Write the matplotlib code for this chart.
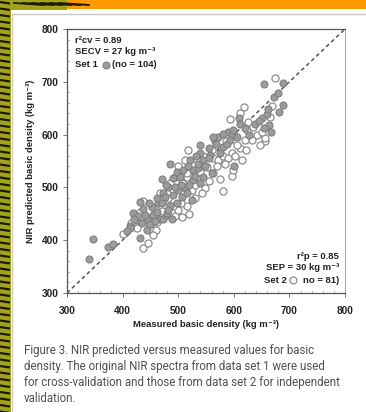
import matplotlib.pyplot as plt
import numpy as np

# Set 1 (cross-validation), filled grey circles
set1_measured = [339, 346, 374, 382, 414, 431, 413, 419, 425, 431, 437, 434, 443, 446,
                 455, 461, 464, 467, 473, 479, 488, 472, 482, 470, 485, 497, 479, 476,
                 491, 506, 524, 500, 512, 478, 491, 497, 485, 509, 527, 536, 521, 539,
                 545, 557, 560, 545, 527, 539, 556, 566, 581, 588, 600, 572, 590, 596,
                 581, 610, 611, 638, 650, 659, 662, 673, 680, 655, 688, 689, 682, 664,
                 667, 599, 563, 532, 517, 503, 462, 452, 440, 428, 420, 450, 458, 505,
                 515, 530, 548, 555, 575, 593, 605, 620, 628, 645, 655, 470, 494, 520,
                 540, 568, 482, 447, 408, 535]
set1_predicted = [365, 402, 388, 393, 427, 405, 424, 451, 438, 473, 460, 432, 419, 438,
                  447, 454, 470, 441, 440, 447, 441, 489, 501, 470, 464, 470, 451, 482,
                  486, 482, 476, 495, 498, 505, 517, 530, 544, 533, 533, 536, 552, 565,
                  552, 561, 527, 520, 514, 508, 555, 587, 577, 583, 540, 596, 605, 599,
                  602, 632, 620, 621, 631, 639, 648, 672, 678, 696, 698, 656, 643, 618,
                  605, 609, 596, 560, 540, 520, 480, 462, 447, 445, 440, 430, 436, 505,
                  490, 522, 540, 575, 565, 590, 595, 612, 600, 625, 612, 515, 500, 505,
                  580, 583, 458, 470, 418, 545]

# Set 2 (independent validation), open circles
set2_measured = [401, 437, 445, 449, 449, 436, 431, 416, 425, 458, 461, 479, 491, 506,
                 515, 506, 494, 500, 515, 482, 485, 515, 524, 533, 515, 512, 518, 551,
                 563, 572, 563, 581, 596, 599, 596, 611, 622, 614, 586, 656, 619, 593,
                 623, 626, 641, 656, 633, 665, 668, 674, 648, 549, 542, 530, 555, 570,
                 580, 540, 505, 520, 490, 470, 460, 455, 467, 500, 525, 560, 590, 605,
                 603, 620, 635, 650, 600, 545, 530, 495, 575, 585, 612]
set2_predicted = [412, 385, 394, 427, 419, 474, 454, 432, 424, 460, 435, 476, 495, 508,
                  520, 443, 445, 457, 464, 479, 508, 501, 495, 520, 527, 552, 571, 539,
                  555, 552, 527, 494, 521, 533, 565, 574, 571, 551, 587, 587, 652, 629,
                  609, 624, 600, 593, 590, 634, 654, 707, 580, 498, 490, 480, 512, 540,
                  560, 530, 470, 450, 465, 455, 420, 410, 490, 540, 545, 570, 555, 580,
                  560, 590, 615, 605, 600, 560, 505, 520, 515, 545, 640]

W, H = 366, 412
fig = plt.figure(figsize=(W / 100, H / 100), dpi=100)

# decorative page background (pixel coordinates)
bg = fig.add_axes([0, 0, 1, 1])
bg.set_xlim(0, W)
bg.set_ylim(H, 0)
bg.axis('off')
bg.add_patch(plt.Rectangle((0, 0), 11, H, color='#a3a21c', lw=0))
bg.add_patch(plt.Rectangle((0, 0), 67, 10, color='#a3a21c', lw=0))
bg.add_patch(plt.Rectangle((67, 0), W - 67, 9, color='#ff9a00', lw=0))
for yy in np.arange(2, H, 6.5):
    bg.plot([0, 10], [yy, yy + 1.5], color='#1a1a00', lw=1.6, solid_capstyle='butt')
for xx in np.arange(14, 67, 9):
    bg.plot([xx, xx + 30], [3, 5], color='#1a1a00', lw=1.3)
bg.add_patch(plt.Rectangle((12, 14), W, H, facecolor='white', edgecolor='#c8c8c8', lw=1))

fam = ['Liberation Sans', 'DejaVu Sans']

ax = fig.add_axes([67 / W, 1 - 293 / H, 278 / W, 264 / H])
ax.plot([300, 800], [300, 800], color='#555555', ls=(0, (2.5, 2)), lw=1.1, zorder=1)
ax.scatter(set2_measured, set2_predicted, s=26, facecolors='white', edgecolors='#8c8c8c',
           linewidths=0.9, zorder=2)
ax.scatter(set1_measured, set1_predicted, s=26, facecolors='#9c9c9c', edgecolors='#7a7a7a',
           linewidths=0.7, zorder=3)

ax.set_xlim(300, 800)
ax.set_ylim(300, 800)
ax.set_xticks(range(300, 801, 100))
ax.set_yticks(range(300, 801, 100))
ax.set_xticks(range(300, 801, 20), minor=True)
ax.set_yticks(range(300, 801, 20), minor=True)
ax.tick_params(which='major', direction='out', length=3, width=0.7, color='#777777',
               labelsize=7.3, pad=3)
ax.tick_params(axis='x', which='major', pad=6)
ax.tick_params(which='minor', direction='in', length=2, width=0.5, color='#aaaaaa')
for lab in ax.get_xticklabels() + ax.get_yticklabels():
    lab.set_fontweight('bold')
    lab.set_family(fam)
    lab.set_color('#222222')
for side in ['left', 'bottom', 'top']:
    ax.spines[side].set_color('#555555')
    ax.spines[side].set_linewidth(0.9)
ax.spines['right'].set_color('#aaaaaa')

lab_font = dict(family=fam, fontsize=6.8, fontweight='bold', color='#222222')
ax.set_xlabel('Measured basic density (kg m⁻³)', labelpad=3, **lab_font)
ax.set_ylabel('NIR predicted basic density (kg m⁻³)', labelpad=5, **lab_font)

txt = dict(family=fam, fontsize=6.8, fontweight='bold', color='#222222',
           transform=ax.transAxes, va='center')
ax.text(0.029, 0.958, 'r²cv = 0.89', **txt)
ax.text(0.029, 0.913, 'SECV = 27 kg m⁻³', **txt)
ax.text(0.029, 0.864, 'Set 1', **txt)
ax.plot([0.142], [0.864], 'o', ms=5, mfc='#9c9c9c', mec='#7a7a7a', mew=0.7,
        transform=ax.transAxes)
ax.text(0.162, 0.864, '(no = 104)', **txt)

ax.text(0.978, 0.140, 'r²p = 0.85', ha='right', **txt)
ax.text(0.978, 0.095, 'SEP = 30 kg m⁻³', ha='right', **txt)
ax.text(0.978, 0.049, 'no = 81)', ha='right', **txt)
ax.plot([0.814], [0.049], 'o', ms=5, mfc='white', mec='#8c8c8c', mew=0.9,
        transform=ax.transAxes)
ax.text(0.792, 0.049, 'Set 2', ha='right', **txt)

caption = ('Figure 3. NIR predicted versus measured values for basic\n'
           'density. The original NIR spectra from data set 1 were used\n'
           'for cross-validation and those from data set 2 for independent\n'
           'validation.')
bg.text(24, 344, caption, fontsize=8.3, color='#505050', va='top', ha='left',
        family=['Liberation Sans Narrow', 'Roboto', 'DejaVu Sans'], linespacing=1.3)

fig.savefig('out.png', dpi=100)
